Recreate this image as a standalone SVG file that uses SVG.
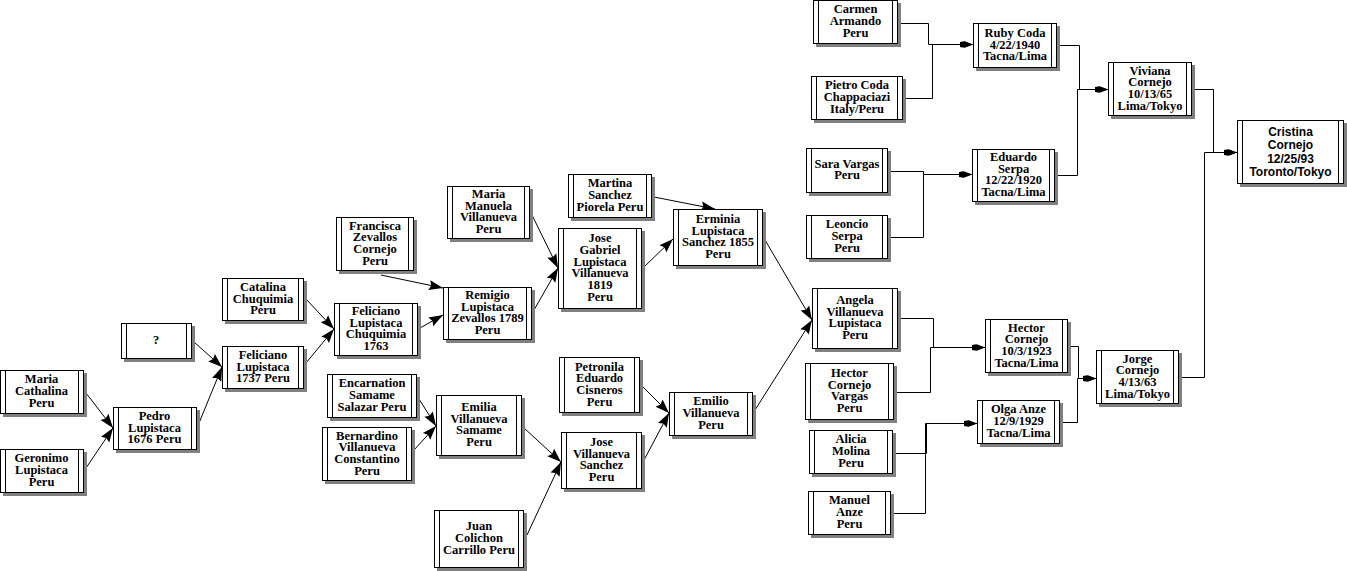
<svg xmlns="http://www.w3.org/2000/svg" width="1347" height="571" viewBox="0 0 1347 571">
<defs>
<style>
.sh{fill:#808080}
.bx{fill:#fff;stroke:#000;stroke-width:1}
.in{stroke:#000;stroke-width:1}
.t{font-family:"Liberation Serif","Times New Roman",serif;font-weight:bold;font-size:12.5px;fill:#000;text-anchor:middle}
.ts{font-family:"Liberation Sans",Arial,sans-serif;font-weight:bold;font-size:12px;fill:#000;text-anchor:middle}
.c{fill:none;stroke:#000;stroke-width:1}
.cb{marker-end:url(#big)}
.cs{marker-end:url(#small)}
</style>
<marker id="big" markerUnits="userSpaceOnUse" markerWidth="15" markerHeight="11" refX="14" refY="5" orient="auto" overflow="visible">
<path d="M0,0 L14,5 L0,10 L2,5 Z" fill="#000"/>
</marker>
<marker id="small" markerUnits="userSpaceOnUse" markerWidth="14" markerHeight="8" refX="13" refY="0" orient="auto" overflow="visible">
<path d="M0,-2.5 L5,-3 L13,0 L5,3 L0,2.5 Z" fill="#000"/>
</marker>
</defs>
<rect width="1347" height="571" fill="#fff"/>

<g id="connectors">
<line class="c cb" x1="86" y1="393" x2="113" y2="428"/>
<line class="c cb" x1="86" y1="468" x2="113" y2="428"/>
<line class="c cb" x1="194" y1="342" x2="222" y2="367"/>
<line class="c cb" x1="199" y1="423" x2="222" y2="367"/>
<line class="c cb" x1="306" y1="299" x2="334" y2="329"/>
<line class="c cb" x1="306" y1="363" x2="334" y2="329"/>
<line class="c cb" x1="381" y1="275" x2="443" y2="288"/>
<line class="c cb" x1="420" y1="328" x2="443" y2="315"/>
<line class="c cb" x1="532" y1="215" x2="558" y2="268"/>
<line class="c cb" x1="534" y1="310" x2="558" y2="268"/>
<line class="c cb" x1="654" y1="197" x2="715" y2="209"/>
<line class="c cb" x1="644" y1="267" x2="673" y2="239"/>
<line class="c cb" x1="765" y1="240" x2="812" y2="320"/>
<line class="c cb" x1="755" y1="410" x2="812" y2="320"/>
<line class="c cb" x1="643" y1="387" x2="669" y2="413"/>
<line class="c cb" x1="644" y1="460" x2="669" y2="413"/>
<line class="c cb" x1="419" y1="399" x2="436" y2="426"/>
<line class="c cb" x1="414" y1="450" x2="436" y2="426"/>
<line class="c cb" x1="524" y1="428" x2="561" y2="462"/>
<line class="c cb" x1="527" y1="535" x2="561" y2="462"/>

<polyline class="c cs" points="897,23.5 928.5,23.5 928.5,44.5 973,44.5"/>
<polyline class="c cs" points="902,98.5 932.5,98.5 932.5,44.5 973,44.5"/>
<polyline class="c cs" points="887,171.5 923.5,171.5 923.5,174.5 972,174.5"/>
<polyline class="c cs" points="887,237.5 923.5,237.5 923.5,174.5 972,174.5"/>
<polyline class="c cs" points="1056,45.5 1079.5,45.5 1079.5,89.5 1108,89.5"/>
<polyline class="c cs" points="1054,175.5 1077.5,175.5 1077.5,89.5 1108,89.5"/>
<polyline class="c cs" points="897,318.5 933.5,318.5 933.5,347.5 985,347.5"/>
<polyline class="c cs" points="893,392.5 930.5,392.5 930.5,347.5 985,347.5"/>
<polyline class="c cs" points="892,453.5 926.5,453.5 926.5,423.5 977,423.5"/>
<polyline class="c cs" points="890,513.5 925.5,513.5 925.5,423.5 977,423.5"/>
<polyline class="c cs" points="1067,346.5 1078.5,346.5 1078.5,378.5 1096,378.5"/>
<polyline class="c cs" points="1059,422.5 1077.5,422.5 1077.5,378.5 1096,378.5"/>
<polyline class="c cs" points="1191,89.5 1213.5,89.5 1213.5,152.5 1237,152.5"/>
<polyline class="c cs" points="1178,377.5 1204.5,377.5 1204.5,152.5 1237,152.5"/>
</g>

<g id="maria_cathalina"><rect class="sh" x="3" y="373" width="84" height="44"/><rect class="bx" x="0.5" y="370.5" width="83" height="43"/><line class="in" x1="5.5" y1="370.5" x2="5.5" y2="413.5"/><line class="in" x1="78.5" y1="370.5" x2="78.5" y2="413.5"/>
<text class="t" x="41.5" y="383.3">Maria</text><text class="t" x="41.5" y="395">Cathalina</text><text class="t" x="41.5" y="406.7">Peru</text></g>

<g id="geronimo"><rect class="sh" x="3" y="452" width="84" height="44"/><rect class="bx" x="0.5" y="449.5" width="83" height="43"/><line class="in" x1="5.5" y1="449.5" x2="5.5" y2="492.5"/><line class="in" x1="78.5" y1="449.5" x2="78.5" y2="492.5"/>
<text class="t" x="41.5" y="462.3">Geronimo</text><text class="t" x="41.5" y="474">Lupistaca</text><text class="t" x="41.5" y="485.7">Peru</text></g>

<g id="pedro"><rect class="sh" x="116" y="410" width="84" height="43"/><rect class="bx" x="113.5" y="407.5" width="83" height="42"/><line class="in" x1="118.5" y1="407.5" x2="118.5" y2="449.5"/><line class="in" x1="191.5" y1="407.5" x2="191.5" y2="449.5"/>
<text class="t" x="154.5" y="419.8">Pedro</text><text class="t" x="154.5" y="431.5">Lupistaca</text><text class="t" x="154.5" y="443.2">1676 Peru</text></g>

<g id="unknown"><rect class="sh" x="124" y="326" width="71" height="36"/><rect class="bx" x="121.5" y="323.5" width="70" height="35"/><line class="in" x1="126.5" y1="323.5" x2="126.5" y2="358.5"/><line class="in" x1="186.5" y1="323.5" x2="186.5" y2="358.5"/>
<text class="t" x="156" y="344">?</text></g>

<g id="feliciano_1737"><rect class="sh" x="225" y="349" width="82" height="43"/><rect class="bx" x="222.5" y="346.5" width="81" height="42"/><line class="in" x1="227.5" y1="346.5" x2="227.5" y2="388.5"/><line class="in" x1="298.5" y1="346.5" x2="298.5" y2="388.5"/>
<text class="t" x="263" y="358.8">Feliciano</text><text class="t" x="263" y="370.5">Lupistaca</text><text class="t" x="263" y="382.2">1737 Peru</text></g>

<g id="catalina"><rect class="sh" x="225" y="281" width="82" height="43"/><rect class="bx" x="222.5" y="278.5" width="81" height="42"/><line class="in" x1="227.5" y1="278.5" x2="227.5" y2="320.5"/><line class="in" x1="298.5" y1="278.5" x2="298.5" y2="320.5"/>
<text class="t" x="263" y="290.8">Catalina</text><text class="t" x="263" y="302.5">Chuquimia</text><text class="t" x="263" y="314.2">Peru</text></g>

<g id="feliciano_1763"><rect class="sh" x="337" y="306" width="84" height="53"/><rect class="bx" x="334.5" y="303.5" width="83" height="52"/><line class="in" x1="339.5" y1="303.5" x2="339.5" y2="355.5"/><line class="in" x1="412.5" y1="303.5" x2="412.5" y2="355.5"/>
<text class="t" x="376" y="315">Feliciano</text><text class="t" x="376" y="326.7">Lupistaca</text><text class="t" x="376" y="338.4">Chuquimia</text><text class="t" x="376" y="350.1">1763</text></g>

<g id="francisca"><rect class="sh" x="339" y="220" width="78" height="54"/><rect class="bx" x="336.5" y="217.5" width="77" height="53"/><line class="in" x1="341.5" y1="217.5" x2="341.5" y2="270.5"/><line class="in" x1="408.5" y1="217.5" x2="408.5" y2="270.5"/>
<text class="t" x="375" y="229.5">Francisca</text><text class="t" x="375" y="241.2">Zevallos</text><text class="t" x="375" y="252.9">Cornejo</text><text class="t" x="375" y="264.6">Peru</text></g>

<g id="remigio"><rect class="sh" x="446" y="290" width="89" height="53"/><rect class="bx" x="443.5" y="287.5" width="88" height="52"/><line class="in" x1="448.5" y1="287.5" x2="448.5" y2="339.5"/><line class="in" x1="526.5" y1="287.5" x2="526.5" y2="339.5"/>
<text class="t" x="487.5" y="299">Remigio</text><text class="t" x="487.5" y="310.7">Lupistaca</text><text class="t" x="487.5" y="322.4">Zevallos 1789</text><text class="t" x="487.5" y="334.1">Peru</text></g>

<g id="maria_manuela"><rect class="sh" x="450" y="189" width="83" height="53"/><rect class="bx" x="447.5" y="186.5" width="82" height="52"/><line class="in" x1="452.5" y1="186.5" x2="452.5" y2="238.5"/><line class="in" x1="524.5" y1="186.5" x2="524.5" y2="238.5"/>
<text class="t" x="488.5" y="198">Maria</text><text class="t" x="488.5" y="209.7">Manuela</text><text class="t" x="488.5" y="221.4">Villanueva</text><text class="t" x="488.5" y="233.1">Peru</text></g>

<g id="jose_gabriel"><rect class="sh" x="561" y="231" width="84" height="81"/><rect class="bx" x="558.5" y="228.5" width="83" height="80"/><line class="in" x1="563.5" y1="228.5" x2="563.5" y2="308.5"/><line class="in" x1="636.5" y1="228.5" x2="636.5" y2="308.5"/>
<text class="t" x="600" y="242.3">Jose</text><text class="t" x="600" y="254">Gabriel</text><text class="t" x="600" y="265.7">Lupistaca</text><text class="t" x="600" y="277.4">Villanueva</text><text class="t" x="600" y="289.1">1819</text><text class="t" x="600" y="300.8">Peru</text></g>

<g id="martina"><rect class="sh" x="571" y="177" width="84" height="44"/><rect class="bx" x="568.5" y="174.5" width="83" height="43"/><line class="in" x1="573.5" y1="174.5" x2="573.5" y2="217.5"/><line class="in" x1="646.5" y1="174.5" x2="646.5" y2="217.5"/>
<text class="t" x="610" y="187.3">Martina</text><text class="t" x="610" y="199">Sanchez</text><text class="t" x="610" y="210.7">Piorela Peru</text></g>

<g id="erminia"><rect class="sh" x="676" y="212" width="90" height="57"/><rect class="bx" x="673.5" y="209.5" width="89" height="56"/><line class="in" x1="678.5" y1="209.5" x2="678.5" y2="265.5"/><line class="in" x1="757.5" y1="209.5" x2="757.5" y2="265.5"/>
<text class="t" x="718" y="223">Erminia</text><text class="t" x="718" y="234.7">Lupistaca</text><text class="t" x="718" y="246.4">Sanchez 1855</text><text class="t" x="718" y="258.1">Peru</text></g>

<g id="encarnation"><rect class="sh" x="330" y="377" width="90" height="44"/><rect class="bx" x="327.5" y="374.5" width="89" height="43"/><line class="in" x1="332.5" y1="374.5" x2="332.5" y2="417.5"/><line class="in" x1="411.5" y1="374.5" x2="411.5" y2="417.5"/>
<text class="t" x="372" y="387.3">Encarnation</text><text class="t" x="372" y="399">Samame</text><text class="t" x="372" y="410.7">Salazar Peru</text></g>

<g id="bernardino"><rect class="sh" x="325" y="430" width="90" height="54"/><rect class="bx" x="322.5" y="427.5" width="89" height="53"/><line class="in" x1="327.5" y1="427.5" x2="327.5" y2="480.5"/><line class="in" x1="406.5" y1="427.5" x2="406.5" y2="480.5"/>
<text class="t" x="367" y="439.5">Bernardino</text><text class="t" x="367" y="451.2">Villanueva</text><text class="t" x="367" y="462.9">Constantino</text><text class="t" x="367" y="474.6">Peru</text></g>

<g id="emilia"><rect class="sh" x="439" y="398" width="86" height="61"/><rect class="bx" x="436.5" y="395.5" width="85" height="60"/><line class="in" x1="441.5" y1="395.5" x2="441.5" y2="455.5"/><line class="in" x1="516.5" y1="395.5" x2="516.5" y2="455.5"/>
<text class="t" x="479" y="411">Emilia</text><text class="t" x="479" y="422.7">Villanueva</text><text class="t" x="479" y="434.4">Samame</text><text class="t" x="479" y="446.1">Peru</text></g>

<g id="juan"><rect class="sh" x="437" y="513" width="90" height="58"/><rect class="bx" x="434.5" y="510.5" width="89" height="57"/><line class="in" x1="439.5" y1="510.5" x2="439.5" y2="567.5"/><line class="in" x1="518.5" y1="510.5" x2="518.5" y2="567.5"/>
<text class="t" x="479" y="530.3">Juan</text><text class="t" x="479" y="542">Colichon</text><text class="t" x="479" y="553.7">Carrillo Peru</text></g>

<g id="jose_villanueva_sanchez"><rect class="sh" x="564" y="435" width="81" height="57"/><rect class="bx" x="561.5" y="432.5" width="80" height="56"/><line class="in" x1="566.5" y1="432.5" x2="566.5" y2="488.5"/><line class="in" x1="636.5" y1="432.5" x2="636.5" y2="488.5"/>
<text class="t" x="601.5" y="446">Jose</text><text class="t" x="601.5" y="457.7">Villanueva</text><text class="t" x="601.5" y="469.4">Sanchez</text><text class="t" x="601.5" y="481.1">Peru</text></g>

<g id="petronila"><rect class="sh" x="562" y="360" width="81" height="56"/><rect class="bx" x="559.5" y="357.5" width="80" height="55"/><line class="in" x1="564.5" y1="357.5" x2="564.5" y2="412.5"/><line class="in" x1="634.5" y1="357.5" x2="634.5" y2="412.5"/>
<text class="t" x="599.5" y="370.5">Petronila</text><text class="t" x="599.5" y="382.2">Eduardo</text><text class="t" x="599.5" y="393.9">Cisneros</text><text class="t" x="599.5" y="405.6">Peru</text></g>

<g id="emilio"><rect class="sh" x="672" y="395" width="84" height="44"/><rect class="bx" x="669.5" y="392.5" width="83" height="43"/><line class="in" x1="674.5" y1="392.5" x2="674.5" y2="435.5"/><line class="in" x1="747.5" y1="392.5" x2="747.5" y2="435.5"/>
<text class="t" x="711" y="405.3">Emilio</text><text class="t" x="711" y="417">Villanueva</text><text class="t" x="711" y="428.7">Peru</text></g>

<g id="angela"><rect class="sh" x="815" y="291" width="86" height="61"/><rect class="bx" x="812.5" y="288.5" width="85" height="60"/><line class="in" x1="817.5" y1="288.5" x2="817.5" y2="348.5"/><line class="in" x1="892.5" y1="288.5" x2="892.5" y2="348.5"/>
<text class="t" x="855" y="304">Angela</text><text class="t" x="855" y="315.7">Villanueva</text><text class="t" x="855" y="327.4">Lupistaca</text><text class="t" x="855" y="339.1">Peru</text></g>

<g id="hector_cornejo_vargas"><rect class="sh" x="808" y="366" width="89" height="57"/><rect class="bx" x="805.5" y="363.5" width="88" height="56"/><line class="in" x1="810.5" y1="363.5" x2="810.5" y2="419.5"/><line class="in" x1="888.5" y1="363.5" x2="888.5" y2="419.5"/>
<text class="t" x="849.5" y="377">Hector</text><text class="t" x="849.5" y="388.7">Cornejo</text><text class="t" x="849.5" y="400.4">Vargas</text><text class="t" x="849.5" y="412.1">Peru</text></g>

<g id="alicia"><rect class="sh" x="812" y="433" width="84" height="44"/><rect class="bx" x="809.5" y="430.5" width="83" height="43"/><line class="in" x1="814.5" y1="430.5" x2="814.5" y2="473.5"/><line class="in" x1="887.5" y1="430.5" x2="887.5" y2="473.5"/>
<text class="t" x="851" y="443.3">Alicia</text><text class="t" x="851" y="455">Molina</text><text class="t" x="851" y="466.7">Peru</text></g>

<g id="manuel"><rect class="sh" x="811" y="494" width="83" height="44"/><rect class="bx" x="808.5" y="491.5" width="82" height="43"/><line class="in" x1="813.5" y1="491.5" x2="813.5" y2="534.5"/><line class="in" x1="885.5" y1="491.5" x2="885.5" y2="534.5"/>
<text class="t" x="849.5" y="504.3">Manuel</text><text class="t" x="849.5" y="516">Anze</text><text class="t" x="849.5" y="527.7">Peru</text></g>

<g id="hector_cornejo"><rect class="sh" x="988" y="322" width="83" height="54"/><rect class="bx" x="985.5" y="319.5" width="82" height="53"/><line class="in" x1="990.5" y1="319.5" x2="990.5" y2="372.5"/><line class="in" x1="1062.5" y1="319.5" x2="1062.5" y2="372.5"/>
<text class="t" x="1026.5" y="331.5">Hector</text><text class="t" x="1026.5" y="343.2">Cornejo</text><text class="t" x="1026.5" y="354.9">10/3/1923</text><text class="t" x="1026.5" y="366.6">Tacna/Lima</text></g>

<g id="olga"><rect class="sh" x="980" y="403" width="83" height="44"/><rect class="bx" x="977.5" y="400.5" width="82" height="43"/><line class="in" x1="982.5" y1="400.5" x2="982.5" y2="443.5"/><line class="in" x1="1054.5" y1="400.5" x2="1054.5" y2="443.5"/>
<text class="t" x="1018.5" y="413.3">Olga Anze</text><text class="t" x="1018.5" y="425">12/9/1929</text><text class="t" x="1018.5" y="436.7">Tacna/Lima</text></g>

<g id="carmen"><rect class="sh" x="816" y="3" width="85" height="44"/><rect class="bx" x="813.5" y="0.5" width="84" height="43"/><line class="in" x1="818.5" y1="0.5" x2="818.5" y2="43.5"/><line class="in" x1="892.5" y1="0.5" x2="892.5" y2="43.5"/>
<text class="t" x="855.5" y="13.3">Carmen</text><text class="t" x="855.5" y="25">Armando</text><text class="t" x="855.5" y="36.7">Peru</text></g>

<g id="pietro"><rect class="sh" x="814" y="79" width="92" height="44"/><rect class="bx" x="811.5" y="76.5" width="91" height="43"/><line class="in" x1="816.5" y1="76.5" x2="816.5" y2="119.5"/><line class="in" x1="897.5" y1="76.5" x2="897.5" y2="119.5"/>
<text class="t" x="857" y="89.3">Pietro Coda</text><text class="t" x="857" y="101">Chappaciazi</text><text class="t" x="857" y="112.7">Italy/Peru</text></g>

<g id="sara"><rect class="sh" x="809" y="151" width="82" height="45"/><rect class="bx" x="806.5" y="148.5" width="81" height="44"/><line class="in" x1="811.5" y1="148.5" x2="811.5" y2="192.5"/><line class="in" x1="882.5" y1="148.5" x2="882.5" y2="192.5"/>
<text class="t" x="847" y="167.7">Sara Vargas</text><text class="t" x="847" y="179.4">Peru</text></g>

<g id="leoncio"><rect class="sh" x="809" y="218" width="82" height="44"/><rect class="bx" x="806.5" y="215.5" width="81" height="43"/><line class="in" x1="811.5" y1="215.5" x2="811.5" y2="258.5"/><line class="in" x1="882.5" y1="215.5" x2="882.5" y2="258.5"/>
<text class="t" x="847" y="228.3">Leoncio</text><text class="t" x="847" y="240">Serpa</text><text class="t" x="847" y="251.7">Peru</text></g>

<g id="ruby"><rect class="sh" x="976" y="26" width="84" height="45"/><rect class="bx" x="973.5" y="23.5" width="83" height="44"/><line class="in" x1="978.5" y1="23.5" x2="978.5" y2="67.5"/><line class="in" x1="1051.5" y1="23.5" x2="1051.5" y2="67.5"/>
<text class="t" x="1015" y="36.8">Ruby Coda</text><text class="t" x="1015" y="48.5">4/22/1940</text><text class="t" x="1015" y="60.2">Tacna/Lima</text></g>

<g id="eduardo"><rect class="sh" x="975" y="152" width="83" height="53"/><rect class="bx" x="972.5" y="149.5" width="82" height="52"/><line class="in" x1="977.5" y1="149.5" x2="977.5" y2="201.5"/><line class="in" x1="1049.5" y1="149.5" x2="1049.5" y2="201.5"/>
<text class="t" x="1013.5" y="161">Eduardo</text><text class="t" x="1013.5" y="172.7">Serpa</text><text class="t" x="1013.5" y="184.4">12/22/1920</text><text class="t" x="1013.5" y="196.1">Tacna/Lima</text></g>

<g id="viviana"><rect class="sh" x="1111" y="65" width="84" height="54"/><rect class="bx" x="1108.5" y="62.5" width="83" height="53"/><line class="in" x1="1113.5" y1="62.5" x2="1113.5" y2="115.5"/><line class="in" x1="1186.5" y1="62.5" x2="1186.5" y2="115.5"/>
<text class="t" x="1150" y="74.5">Viviana</text><text class="t" x="1150" y="86.2">Cornejo</text><text class="t" x="1150" y="97.9">10/13/65</text><text class="t" x="1150" y="109.6">Lima/Tokyo</text></g>

<g id="cristina"><rect class="sh" x="1240" y="123" width="107" height="64"/><rect class="bx" x="1237.5" y="120.5" width="106" height="63"/><line class="in" x1="1242.5" y1="120.5" x2="1242.5" y2="183.5"/><line class="in" x1="1338.5" y1="120.5" x2="1338.5" y2="183.5"/>
<text class="ts" x="1290.5" y="136">Cristina</text><text class="ts" x="1290.5" y="149.3">Cornejo</text><text class="ts" x="1290.5" y="162.6">12/25/93</text><text class="ts" x="1290.5" y="175.9">Toronto/Tokyo</text></g>

<g id="jorge"><rect class="sh" x="1099" y="353" width="83" height="54"/><rect class="bx" x="1096.5" y="350.5" width="82" height="53"/><line class="in" x1="1101.5" y1="350.5" x2="1101.5" y2="403.5"/><line class="in" x1="1173.5" y1="350.5" x2="1173.5" y2="403.5"/>
<text class="t" x="1137.5" y="362.5">Jorge</text><text class="t" x="1137.5" y="374.2">Cornejo</text><text class="t" x="1137.5" y="385.9">4/13/63</text><text class="t" x="1137.5" y="397.6">Lima/Tokyo</text></g>
</svg>
